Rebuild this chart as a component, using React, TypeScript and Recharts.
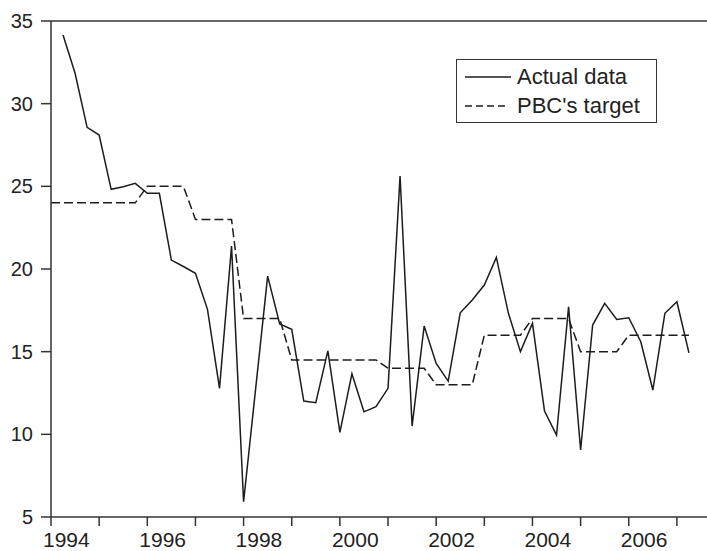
import React from 'react';
import { LineChart, Line, XAxis, YAxis, ReferenceLine } from 'recharts';

// quarterly observations, 1994Q1 .. 2007Q2
const startYear = 1994;
const quarters = Array.from({ length: 54 }, (_, i) => `${startYear + Math.floor(i / 4)}Q${(i % 4) + 1}`);

const actualData = [
  null, 34.15, 31.84, 28.57, 28.1, 24.82, 24.98, 25.18, 24.58, 24.58,
  20.54, 20.15, 19.74, 17.56, 12.78, 21.39, 5.92, 12.75, 19.57, 16.67,
  16.35, 12.01, 11.91, 15.05, 10.12, 13.66, 11.36, 11.67, 12.78, 25.62,
  10.5, 16.55, 14.29, 13.22, 17.35, 18.12, 19.03, 20.7, 17.32, 15.0,
  16.71, 11.41, 9.95, 17.72, 9.05, 16.61, 17.92, 16.95, 17.05, 15.6,
  12.68, 17.32, 18.02, 14.93,
];

const pbcTarget = [
  24, 24, 24, 24, 24, 24, 24, 24,
  25, 25, 25, 25,
  23, 23, 23, 23,
  17, 17, 17, 17,
  14.5, 14.5, 14.5, 14.5, 14.5, 14.5, 14.5, 14.5,
  14, 14, 14, 14,
  13, 13, 13, 13,
  16, 16, 16, 16,
  17, 17, 17, 17,
  15, 15, 15, 15,
  16, 16, 16, 16, 16, 16,
];

const yearTicks = [1994, 1995, 1996, 1997, 1998, 1999, 2000, 2001, 2002, 2003, 2004, 2005, 2006, 2007];
const yTicks = [5, 10, 15, 20, 25, 30, 35];

const data = quarters.map((q, i) => ({
  t: i,
  label: q,
  actual: actualData[i],
  target: pbcTarget[i],
}));

const FONT = '"Liberation Sans", Arial, Helvetica, sans-serif';
const INK = '#1c1c1c';

function YearTick(props: any) {
  const { x, y, payload } = props;
  const year = startYear + payload.value / 4;
  if ((year - startYear) % 2 !== 0) return null;
  return (
    <text x={x - 8} y={y} dy="0.71em" textAnchor="start" fontSize={21} fill="#222" fontFamily={FONT}>
      {year}
    </text>
  );
}

function LegendBox() {
  return (
    <svg width={202} height={65} style={{ position: 'absolute', left: 456, top: 59 }}>
      <rect x={0.5} y={0.5} width={200} height={63} fill="#fff" stroke="#333" strokeWidth={1} />
      <line x1={9} x2={55} y1={18} y2={18} stroke={INK} strokeWidth={1.5} />
      <text x={61} y={25} fontSize={22} fill="#222" fontFamily={FONT}>Actual data</text>
      <line x1={9} x2={51} y1={47} y2={47} stroke={INK} strokeWidth={1.5} strokeDasharray="7 4" />
      <text x={61} y={54} fontSize={22} fill="#222" fontFamily={FONT}>PBC's target</text>
    </svg>
  );
}

export default function App() {
  return (
    <div style={{ position: 'absolute', left: 0, top: 0, width: 707, height: 551, background: '#fff' }}>
      <LineChart width={707} height={551} data={data} margin={{ top: 21, right: 0, bottom: 0, left: 0 }}>
        <XAxis
          dataKey="t"
          type="number"
          domain={[0, 54.5]}
          ticks={yearTicks.map((yr) => (yr - startYear) * 4)}
          interval={0}
          height={34}
          tickSize={9}
          tickMargin={6}
          stroke="#333"
          strokeWidth={1.5}
          tick={<YearTick />}
        />
        <YAxis
          type="number"
          domain={[5, 35]}
          ticks={yTicks}
          interval={0}
          width={51}
          tickSize={10}
          tickMargin={8}
          stroke="#333"
          strokeWidth={1.5}
          tick={{ fontSize: 20, fill: '#222', fontFamily: FONT }}
        />
        <ReferenceLine y={35} stroke="#333" strokeWidth={1.5} />
        <Line
          type="linear"
          dataKey="target"
          stroke={INK}
          strokeWidth={1.5}
          strokeDasharray="9 4"
          dot={false}
          isAnimationActive={false}
        />
        <Line
          type="linear"
          dataKey="actual"
          stroke={INK}
          strokeWidth={1.5}
          dot={false}
          connectNulls={false}
          isAnimationActive={false}
        />
      </LineChart>
      <LegendBox />
    </div>
  );
}
